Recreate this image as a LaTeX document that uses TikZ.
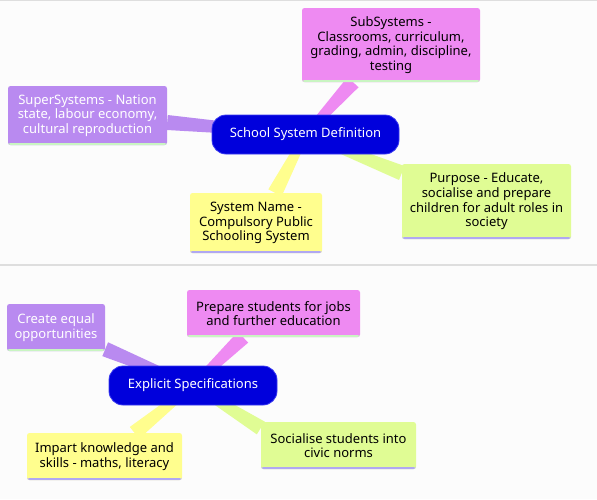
\documentclass[tikz,border=0pt]{standalone}
\usepackage{fontspec}
\setmainfont{Noto Sans}
\usetikzlibrary{calc,backgrounds}
\definecolor{bgc}{HTML}{FCFCFC}
\definecolor{sepc}{HTML}{DEDEDE}
\definecolor{purp}{HTML}{B98AF0}
\definecolor{pink}{HTML}{EE8AF2}
\definecolor{lgreen}{HTML}{E0FC94}
\definecolor{lyellow}{HTML}{FFFE8E}
\definecolor{dblue}{HTML}{0000DC}
\definecolor{dborder}{HTML}{3A3AF0}
\definecolor{linegreen}{HTML}{C9F5C2}
\definecolor{linelav}{HTML}{B0A8F2}
\tikzset{
  txt/.style={font=\fontsize{13}{14.7}\selectfont},
  box/.style n args={4}{txt, rounded corners=2.5pt, align=center, inner sep=0pt,
    fill=#1, text=#2, minimum width=#3, minimum height=#4},
  bline/.style={path picture={\fill[#1] ([yshift=2pt]path picture bounding box.south west) rectangle (path picture bounding box.south east);}},
  hub/.style={txt, rounded corners=14pt, fill=dblue, draw=dborder, line width=0.8pt,
    text=white, inner sep=0pt, minimum width=#1, minimum height=39pt},
  sep/.style={sepc, line width=1.5pt}
}
\newcommand\branch[3]{%
  \fill[#1] ($(#2)!7.5pt!90:(#3)$) -- ($(#3)!3.5pt!-90:(#2)$) -- ($(#3)!3.5pt!90:(#2)$) -- ($(#2)!7.5pt!-90:(#3)$) -- cycle;}
\begin{document}
\begin{tikzpicture}[x=1pt,y=-1pt]
\useasboundingbox (0,0) rectangle (597,499);
% ---------- top map ----------
\node[hub=187pt] (c1) at (305.5,134.5) {School System Definition};
\node[box={pink}{black}{178pt}{74pt}, bline=linegreen] (sub) at (391,45)
  {SubSystems -\\Classrooms, curriculum,\\grading, admin, discipline,\\testing};
\node[box={purp}{white}{159pt}{59pt}, bline=linegreen] (super) at (87.5,115.5)
  {SuperSystems - Nation\\state, labour economy,\\cultural reproduction};
\node[box={lgreen}{black}{169pt}{75pt}, bline=linelav] (purpose) at (486.5,201.5)
  {Purpose - Educate,\\socialise and prepare\\children for adult roles in\\society};
\node[box={lyellow}{black}{132pt}{60pt}, bline=linelav] (sysname) at (256,223)
  {System Name -\\Compulsory Public\\Schooling System};
% ---------- bottom map ----------
\node[hub=168pt] (c2) at (193,385.5) {Explicit Specifications};
\node[box={purp}{white}{98pt}{47pt}, bline=linegreen] (create) at (56,327.5)
  {Create equal\\opportunities};
\node[box={pink}{black}{173pt}{47pt}, bline=linegreen] (prepare) at (273.5,313.5)
  {Prepare students for jobs\\and further education};
\node[box={lgreen}{black}{155pt}{47pt}, bline=linelav] (social) at (338.5,445.5)
  {Socialise students into\\civic norms};
\node[box={lyellow}{black}{155pt}{47pt}, bline=linelav] (impart) at (104.5,456.5)
  {Impart knowledge and\\skills - maths, literacy};
% ---------- attachment points ----------
\coordinate (superE) at ($(super.east)+(0,7)$);
\coordinate (subE) at ($(sub.south)+(-38,0)$);
\coordinate (purposeE) at ($(purpose.west)+(0,-28.5)$);
\coordinate (sysnameE) at ($(sysname.north)+(19,0)$);
\coordinate (createE) at ($(create.south east)+(0,-2)$);
\coordinate (prepareE) at ($(prepare.south)+(-30.5,0)$);
\coordinate (socialE) at ($(social.west)+(0,-17.5)$);
\coordinate (impartE) at ($(impart.north)+(30,0)$);
\begin{scope}[on background layer]
  \fill[bgc] (0,0) rectangle (597,499);
  \draw[sep] (0,0.5) -- (597,0.5);
  \draw[sep] (0,265) -- (597,265);
  \branch{purp}{superE}{c1.center}
  \branch{pink}{subE}{c1.center}
  \branch{lgreen}{purposeE}{c1.center}
  \branch{lyellow}{sysnameE}{c1.center}
  \branch{purp}{createE}{c2.center}
  \branch{pink}{prepareE}{c2.center}
  \branch{lgreen}{socialE}{c2.center}
  \branch{lyellow}{impartE}{c2.center}
\end{scope}
\end{tikzpicture}
\end{document}
